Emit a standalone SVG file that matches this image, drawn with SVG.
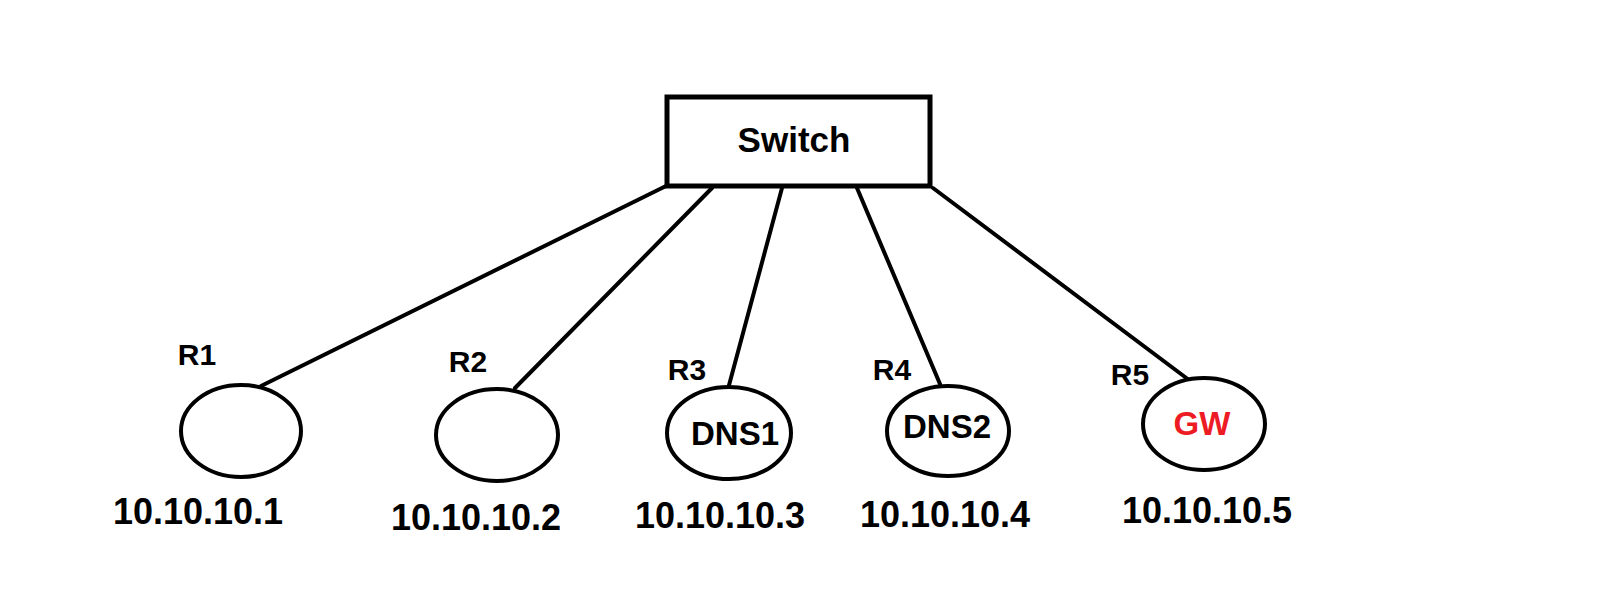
<svg xmlns="http://www.w3.org/2000/svg" width="1600" height="599" viewBox="0 0 1600 599">
<style>
.t{font-family:"Liberation Sans",Arial,sans-serif;font-weight:bold;fill:#000;text-anchor:middle}
.lbl{font-size:30px}
.ip{font-size:36px}
.in{font-size:33px}
.node{fill:#fff;stroke:#000;stroke-width:4}
.conn line{stroke:#000;stroke-width:4;stroke-linecap:round}
</style>
<rect width="1600" height="599" fill="#fff"/>
<g id="connectors" class="conn">
<line x1="666" y1="186" x2="261" y2="386"/>
<line x1="712" y1="188" x2="515" y2="388"/>
<line x1="782" y1="188" x2="728" y2="389"/>
<line x1="857" y1="188" x2="940" y2="384"/>
<line x1="933" y1="188" x2="1189" y2="380"/>
</g>
<g id="switch">
<rect x="667" y="97" width="263" height="89" fill="#fff" stroke="#000" stroke-width="5"/>
<text class="t" x="794" y="152" font-size="35">Switch</text>
</g>
<g id="r1">
<ellipse class="node" cx="241" cy="431" rx="60" ry="46"/>
<text class="t lbl" x="197" y="365">R1</text>
<text class="t ip" x="198" y="524">10.10.10.1</text>
</g>
<g id="r2">
<ellipse class="node" cx="497" cy="435" rx="61" ry="46"/>
<text class="t lbl" x="468" y="372">R2</text>
<text class="t ip" x="476" y="530">10.10.10.2</text>
</g>
<g id="r3">
<ellipse class="node" cx="729" cy="433" rx="62" ry="46"/>
<text class="t lbl" x="687" y="380">R3</text>
<text class="t in" x="735" y="445">DNS1</text>
<text class="t ip" x="720" y="528">10.10.10.3</text>
</g>
<g id="r4">
<ellipse class="node" cx="948" cy="431" rx="61" ry="45"/>
<text class="t lbl" x="892" y="380">R4</text>
<text class="t in" x="947" y="438">DNS2</text>
<text class="t ip" x="945" y="527">10.10.10.4</text>
</g>
<g id="r5">
<ellipse class="node" cx="1204" cy="424" rx="61" ry="46"/>
<text class="t lbl" x="1130" y="385">R5</text>
<text class="t in" x="1202" y="435" style="fill:#ed1c24">GW</text>
<text class="t ip" x="1207" y="523">10.10.10.5</text>
</g>
</svg>
